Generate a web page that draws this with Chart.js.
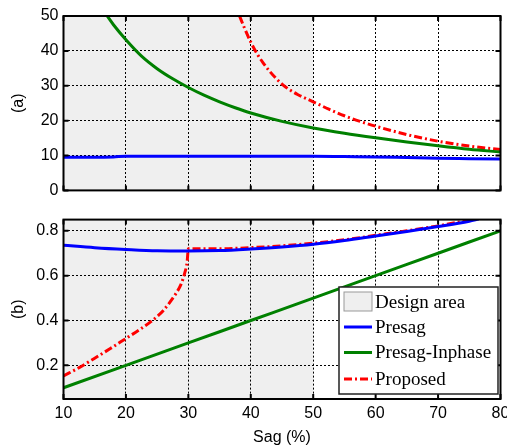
<!DOCTYPE html>
<html>
<head>
<meta charset="utf-8">
<script src="https://cdn.jsdelivr.net/npm/chart.js@4.4.0/dist/chart.umd.min.js"></script>
<style>
  html, body { margin: 0; padding: 0; background: #fff; overflow: hidden; }
  #wrapA { position: absolute; left: 0; top: 0; }
  #wrapB { position: absolute; left: 0; top: 205px; }
</style>
</head>
<body>
<div id="wrapA"><canvas id="chartA" width="520" height="205"></canvas></div>
<div id="wrapB"><canvas id="chartB" width="520" height="242"></canvas></div>
<script>
// shared
const designArea = [10, 50];
const sagTicks = [10, 20, 30, 40, 50, 60, 70, 80];

// (a)
const aTicks = [0, 10, 20, 30, 40, 50];
const aPresagX = [10, 15, 18, 20, 25, 30, 35, 40, 45, 50, 55, 60, 65, 70, 75, 80];
const aPresagY = [9.5, 9.5, 9.6, 9.8, 9.8, 9.8, 9.8, 9.8, 9.8, 9.8, 9.7, 9.6, 9.4, 9.2, 9.1, 9.0];
const aInphaseX = [17, 18, 20, 22.5, 25, 27.5, 30, 32.5, 35, 37.5, 40, 45, 50, 55, 60, 65, 70, 75, 80];
const aInphaseY = [50, 47.5, 43.2, 38.5, 34.9, 32, 29.5, 27.3, 25.4, 23.7, 22.2, 19.8, 17.9, 16.4, 15.1, 13.9, 12.8, 11.8, 11.0];
const aProposedX = [38.2, 39, 40, 41, 42, 43, 44, 45, 46, 47.5, 50, 52.5, 55, 57.5, 60, 65, 70, 75, 80];
const aProposedY = [50, 46.5, 42.5, 39.2, 36.5, 34.2, 32.2, 30.5, 29.1, 27.5, 25.4, 23.3, 21.4, 19.8, 18.4, 16.0, 14.1, 12.7, 11.7];

// (b)
const bTicks = [0.2, 0.4, 0.6, 0.8];
const bPresagX = [10, 15, 20, 25, 30, 35, 40, 45, 50, 55, 60, 65, 70, 75, 76.5];
const bPresagY = [0.736, 0.725, 0.717, 0.711, 0.71, 0.712, 0.719, 0.728, 0.74, 0.757, 0.777, 0.797, 0.819, 0.843, 0.852];
const bInphaseX = [10, 20, 30, 40, 50, 60, 70, 80];
const bInphaseY = [0.1, 0.2, 0.3, 0.4, 0.5, 0.6, 0.7, 0.8];
const bProposedX = [10, 12.5, 15, 17.5, 20, 22.5, 24, 25, 26, 27, 28, 28.8, 29.4, 29.8, 30, 35, 40, 45, 50, 55, 60, 65, 70, 75, 75.7];
const bProposedY = [0.153, 0.19, 0.232, 0.275, 0.32, 0.365, 0.395, 0.418, 0.445, 0.48, 0.52, 0.56, 0.61, 0.66, 0.72, 0.72, 0.725, 0.733, 0.745, 0.76, 0.78, 0.8, 0.822, 0.848, 0.852];

const pts = (xs, ys) => xs.map((x, i) => ({ x: x, y: ys[i] }));

const styles = {
  presag:   { label: 'Presag', borderColor: '#0000ff', borderWidth: 3 },
  inphase:  { label: 'Presag-Inphase', borderColor: '#008000', borderWidth: 3 },
  proposed: { label: 'Proposed', borderColor: '#ff0000', borderWidth: 3, borderDash: [8, 3, 2, 3] }
};
const shadeColor = '#efefef';
const tickFont = { family: 'Liberation Sans', size: 16 };

const designShade = {
  id: 'designShade',
  beforeDraw(chart) {
    const { ctx, chartArea: a, scales: { x } } = chart;
    const x0 = x.getPixelForValue(designArea[0]);
    const x1 = x.getPixelForValue(designArea[1]);
    ctx.save();
    ctx.fillStyle = shadeColor;
    ctx.fillRect(x0, a.top, x1 - x0, a.bottom - a.top);
    ctx.restore();
  }
};

// box round the plot plus small inward ticks, matlab style
const frame = {
  id: 'frame',
  afterDatasetsDraw(chart) {
    const { ctx, chartArea: a, scales: { x, y } } = chart;
    ctx.save();
    ctx.strokeStyle = '#000';
    ctx.lineWidth = 2;
    ctx.setLineDash([]);
    ctx.strokeRect(a.left, a.top, a.right - a.left, a.bottom - a.top);
    ctx.beginPath();
    x.ticks.forEach(t => {
      const px = x.getPixelForValue(t.value);
      ctx.moveTo(px, a.bottom); ctx.lineTo(px, a.bottom - 5);
      ctx.moveTo(px, a.top); ctx.lineTo(px, a.top + 5);
    });
    y.ticks.forEach(t => {
      const py = y.getPixelForValue(t.value);
      ctx.moveTo(a.left, py); ctx.lineTo(a.left + 5, py);
      ctx.moveTo(a.right, py); ctx.lineTo(a.right - 5, py);
    });
    ctx.stroke();
    ctx.restore();
  }
};

const boxLegend = {
  id: 'boxLegend',
  afterDraw(chart) {
    const { ctx, chartArea: a } = chart;
    const w = 159, h = 107;
    const bx = a.right - 2.5 - w, by = a.bottom - 5 - h;
    ctx.save();
    ctx.fillStyle = '#fff';
    ctx.fillRect(bx, by, w, h);
    ctx.strokeStyle = '#222';
    ctx.lineWidth = 1.5;
    ctx.strokeRect(bx, by, w, h);
    ctx.font = '19px "Liberation Serif"';
    ctx.textBaseline = 'middle';
    // design area patch
    ctx.fillStyle = shadeColor;
    ctx.fillRect(bx + 5, by + 5, 28, 19);
    ctx.strokeStyle = '#999';
    ctx.lineWidth = 1;
    ctx.strokeRect(bx + 5, by + 5, 28, 19);
    ctx.fillStyle = '#000';
    ctx.fillText('Design area', bx + 36, by + 16);
    const rows = [40, 65.5, 92];
    chart.data.datasets.forEach((ds, i) => {
      const ly = by + rows[i];
      ctx.strokeStyle = ds.borderColor;
      ctx.lineWidth = ds.borderWidth;
      ctx.setLineDash(ds.borderDash || []);
      ctx.beginPath();
      ctx.moveTo(bx + 5, ly);
      ctx.lineTo(bx + 33, ly);
      ctx.stroke();
      ctx.setLineDash([]);
      ctx.fillText(ds.label, bx + 36, ly + 1);
    });
    ctx.restore();
  }
};

function makeChart(id, sets, yMin, yMax, yTicks, yTitle, bottomAxis, padTop, xHeight) {
  return new Chart(document.getElementById(id), {
    type: 'line',
    data: {
      datasets: sets.map(([style, xs, ys]) => Object.assign({
        data: pts(xs, ys),
        pointRadius: 0,
        fill: false,
        cubicInterpolationMode: 'monotone'
      }, style))
    },
    options: {
      responsive: false,
      animation: false,
      layout: { padding: { top: padTop, right: 19.5, bottom: 0, left: 0 } },
      plugins: { legend: { display: false }, tooltip: { enabled: false } },
      scales: {
        x: {
          type: 'linear', min: 10, max: 80,
          afterBuildTicks: s => { s.ticks = sagTicks.map(v => ({ value: v })); },
          afterFit: s => { s.height = xHeight; },
          ticks: { display: bottomAxis, color: '#000', font: tickFont, padding: 5, maxRotation: 0 },
          grid: { color: '#000', lineWidth: 1, drawTicks: false },
          border: { display: false, dash: [2, 2] },
          title: { display: bottomAxis, text: 'Sag (%)', color: '#000', font: tickFont, padding: { top: 0, bottom: 0 } }
        },
        y: {
          type: 'linear', min: yMin, max: yMax,
          afterBuildTicks: s => { s.ticks = yTicks.map(v => ({ value: v })); },
          afterFit: s => { s.width = 63.5; },
          ticks: { color: '#000', font: tickFont, padding: 5 },
          grid: { color: '#000', lineWidth: 1, drawTicks: false },
          border: { display: false, dash: [2, 2] },
          title: { display: true, text: yTitle, color: '#000', font: tickFont, padding: { top: 9, bottom: 0 } }
        }
      }
    },
    plugins: bottomAxis ? [designShade, frame, boxLegend] : [designShade, frame]
  });
}

makeChart('chartA', [
  [styles.presag, aPresagX, aPresagY],
  [styles.inphase, aInphaseX, aInphaseY],
  [styles.proposed, aProposedX, aProposedY]
], 0, 50, aTicks, '(a)', false, 16, 12);

makeChart('chartB', [
  [styles.presag, bPresagX, bPresagY],
  [styles.inphase, bInphaseX, bInphaseY],
  [styles.proposed, bProposedX, bProposedY]
], 0.05, 0.85, bTicks, '(b)', true, 10, 48);
</script>
</body>
</html>
